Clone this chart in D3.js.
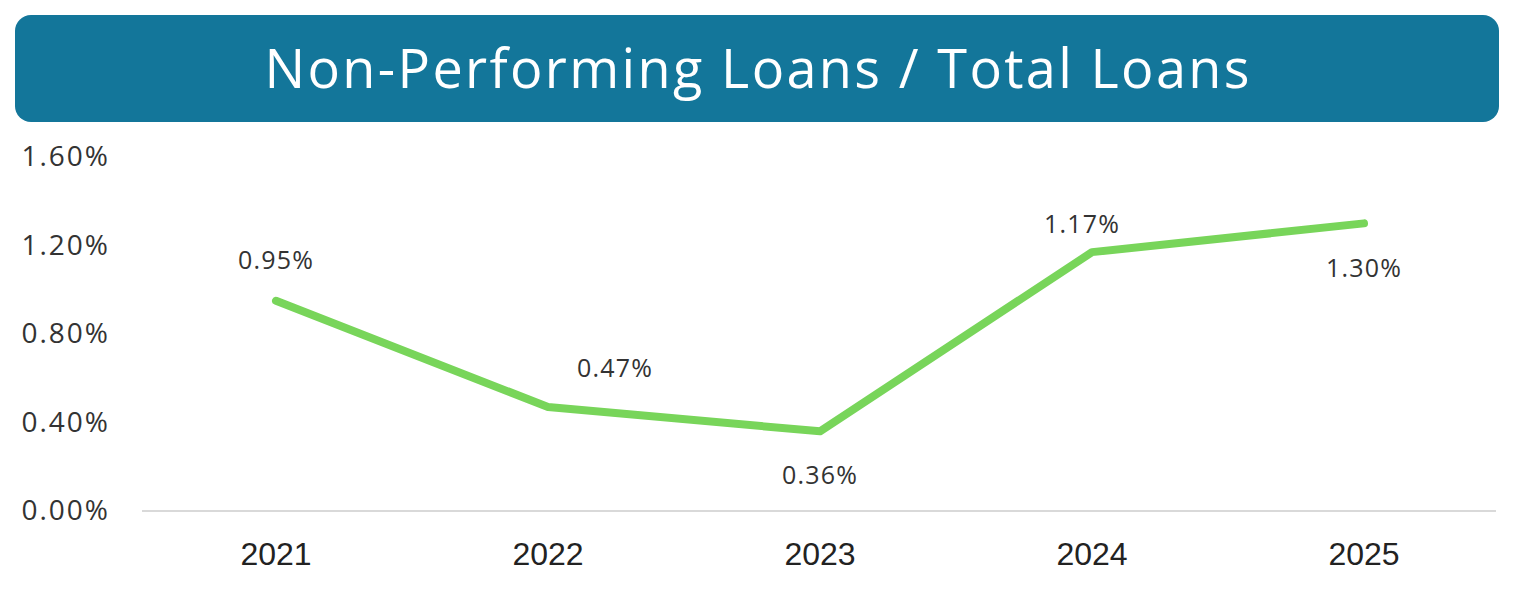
<!DOCTYPE html>
<html>
<head>
<meta charset="utf-8">
<script src="https://cdn.jsdelivr.net/npm/d3@7"></script>
<style>
  html, body { margin: 0; padding: 0; background: #fff; }
  svg { display: block; }
</style>
</head>
<body>
<div id="chart"></div>
<script>
var title = 'Non-Performing Loans / Total Loans';
var years = ['2021', '2022', '2023', '2024', '2025'];
var npl = [0.95, 0.47, 0.36, 1.17, 1.30];
var yTicks = [0, 0.4, 0.8, 1.2, 1.6];

var width = 1514, height = 608;
var margin = {top: 157, right: 14, bottom: 97, left: 140};

var svg = d3.select('#chart').append('svg')
  .attr('width', width)
  .attr('height', height);

// title banner
svg.append('rect')
  .attr('x', 15).attr('y', 15)
  .attr('width', 1484).attr('height', 107)
  .attr('rx', 16).attr('ry', 16)
  .attr('fill', '#13769a');

svg.append('text')
  .attr('x', 757).attr('y', 88)
  .attr('text-anchor', 'middle')
  .attr('font-family', '"Open Sans", sans-serif')
  .attr('font-size', 54)
  .attr('textLength', 985)
  .attr('lengthAdjust', 'spacing')
  .attr('fill', '#fff')
  .text(title);

var x = d3.scaleBand()
  .domain(years)
  .range([margin.left, width - margin.right]);

var y = d3.scaleLinear()
  .domain([0, 1.6])
  .range([height - margin.bottom, margin.top]);

// baseline
svg.append('line')
  .attr('x1', margin.left + 2).attr('x2', width - 18)
  .attr('y1', y(0)).attr('y2', y(0))
  .attr('stroke', '#d9d9d9')
  .attr('stroke-width', 2);

// y axis labels
var yAxis = svg.append('g')
  .attr('transform', 'translate(110,0)')
  .call(d3.axisLeft(y).tickValues(yTicks).tickSize(0).tickPadding(0)
    .tickFormat(function(d) { return d.toFixed(2) + '%'; }));
yAxis.select('.domain').remove();
yAxis.selectAll('text')
  .attr('font-family', '"Open Sans", sans-serif')
  .attr('font-size', 28)
  .attr('letter-spacing', 2)
  .attr('fill', '#333');

// x axis labels
var xAxis = svg.append('g')
  .attr('transform', 'translate(0,' + (y(0) + 31) + ')')
  .call(d3.axisBottom(x).tickSize(0).tickPadding(0));
xAxis.select('.domain').remove();
xAxis.selectAll('text')
  .attr('font-family', '"Liberation Sans", sans-serif')
  .attr('font-size', 32)
  .attr('fill', '#222');

var pts = years.map(function(d, i) { return {year: d, value: npl[i]}; });

var line = d3.line()
  .x(function(d) { return x(d.year) + x.bandwidth() / 2; })
  .y(function(d) { return y(d.value); });

svg.append('path')
  .datum(pts)
  .attr('d', line)
  .attr('fill', 'none')
  .attr('stroke', '#78d55a')
  .attr('stroke-width', 8)
  .attr('stroke-linecap', 'round')
  .attr('stroke-linejoin', 'round');

// label nudges as placed in the original
var nudge = {'2021': [0, -32], '2022': [67, -30], '2023': [0, 53], '2024': [-10, -19], '2025': [0, 54]};

svg.append('g').selectAll('text')
  .data(pts)
  .enter().append('text')
    .attr('x', function(d) { return x(d.year) + x.bandwidth() / 2 + nudge[d.year][0]; })
    .attr('y', function(d) { return y(d.value) + nudge[d.year][1]; })
    .attr('text-anchor', 'middle')
    .attr('font-family', '"Open Sans", sans-serif')
    .attr('font-size', 25)
    .attr('letter-spacing', 1.2)
    .attr('fill', '#333')
    .text(function(d) { return d.value.toFixed(2) + '%'; });
</script>
</body>
</html>
